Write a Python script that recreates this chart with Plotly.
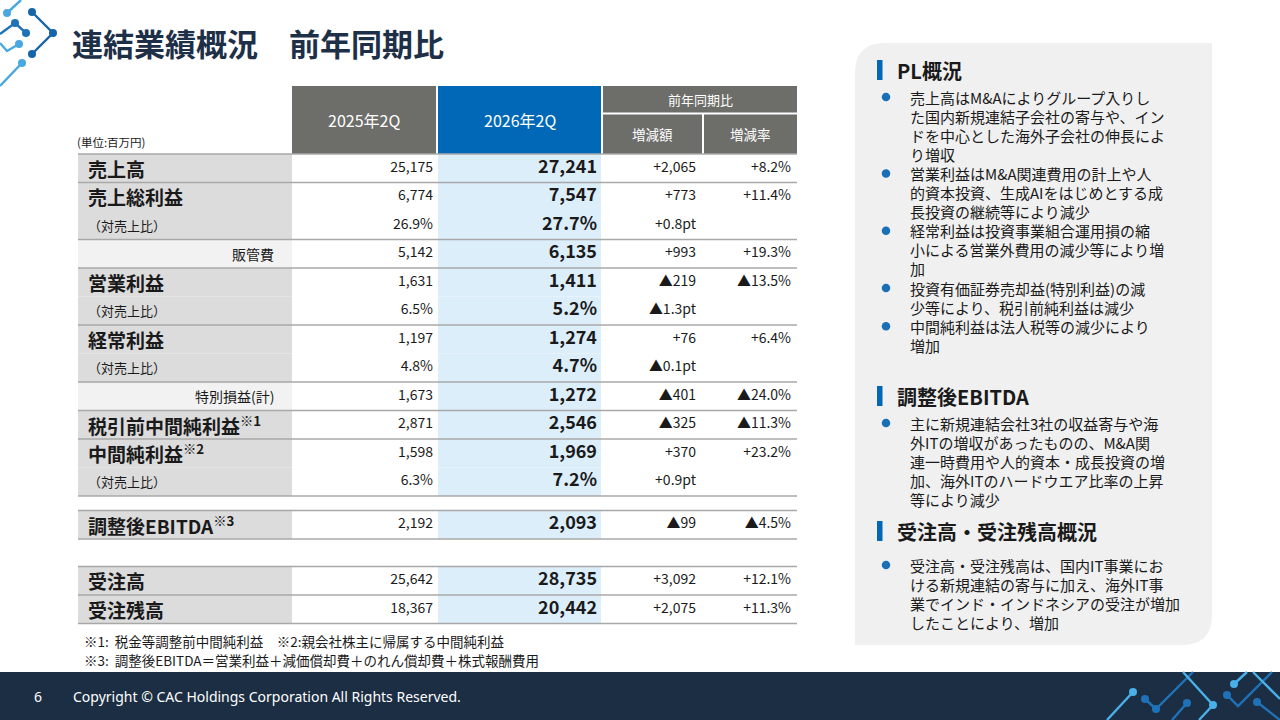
import plotly.graph_objects as go

# ---------------- data ----------------
title = "連結業績概況　前年同期比"
unit_label = "(単位:百万円)"
col_headers = ["2025年2Q", "2026年2Q"]
yoy_header = "前年同期比"
yoy_subheaders = ["増減額", "増減率"]

row_labels = ["売上高", "売上総利益", "（対売上比）", "販管費", "営業利益", "（対売上比）",
              "経常利益", "（対売上比）", "特別損益(計)", "税引前中間純利益", "中間純利益",
              "（対売上比）", "調整後EBITDA", "受注高", "受注残高"]
row_sup = ["", "", "", "", "", "", "", "", "", "※1", "※2", "", "※3", "", ""]
row_kind = ["main", "main", "sub", "minor", "main", "sub", "main", "sub", "minor",
            "main", "main", "sub", "main", "main", "main"]
v2025 = ["25,175", "6,774", "26.9%", "5,142", "1,631", "6.5%", "1,197", "4.8%", "1,673",
         "2,871", "1,598", "6.3%", "2,192", "25,642", "18,367"]
v2026 = ["27,241", "7,547", "27.7%", "6,135", "1,411", "5.2%", "1,274", "4.7%", "1,272",
         "2,546", "1,969", "7.2%", "2,093", "28,735", "20,442"]
diff = ["+2,065", "+773", "+0.8pt", "+993", "▲219", "▲1.3pt", "+76", "▲0.1pt", "▲401",
        "▲325", "+370", "+0.9pt", "▲99", "+3,092", "+2,075"]
rate = ["+8.2%", "+11.4%", "", "+19.3%", "▲13.5%", "", "+6.4%", "", "▲24.0%",
        "▲11.3%", "+23.2%", "", "▲4.5%", "+12.1%", "+11.3%"]

footnotes = ["※1:  税金等調整前中間純利益　※2:親会社株主に帰属する中間純利益",
             "※3:  調整後EBITDA＝営業利益＋減価償却費＋のれん償却費＋株式報酬費用"]

pl_heading = "PL概況"
pl_bullets = [
    ["売上高はM&Aによりグループ入りし", "た国内新規連結子会社の寄与や、イン",
     "ドを中心とした海外子会社の伸長によ", "り増収"],
    ["営業利益はM&A関連費用の計上や人", "的資本投資、生成AIをはじめとする成",
     "長投資の継続等により減少"],
    ["経常利益は投資事業組合運用損の縮", "小による営業外費用の減少等により増", "加"],
    ["投資有価証券売却益(特別利益)の減", "少等により、税引前純利益は減少"],
    ["中間純利益は法人税等の減少により", "増加"],
]
ebitda_heading = "調整後EBITDA"
ebitda_bullets = [
    ["主に新規連結会社3社の収益寄与や海", "外ITの増収があったものの、M&A関",
     "連一時費用や人的資本・成長投資の増", "加、海外ITのハードウエア比率の上昇",
     "等により減少"],
]
order_heading = "受注高・受注残高概況"
order_bullets = [
    ["受注高・受注残高は、国内IT事業にお", "ける新規連結の寄与に加え、海外IT事",
     "業でインド・インドネシアの受注が増加", "したことにより、増加"],
]
page_number = "6"
copyright_text = "Copyright © CAC Holdings Corporation All Rights Reserved."

# ---------------- layout constants / styles ----------------
W, H = 1280, 720
FONT = "Noto Sans CJK JP"
TXT = "#1a1a1a"
NAVY = "#1c2e43"
BLUE = "#0068b7"
HDR_GRAY = "#6d6d69"
LABEL_BG = "#dcdcdc"
MINOR_BG = "#f2f2f2"
COL26_BG = "#ddeefb"
LINE_C = "#a8a8a8"

X_L, X_LAB_R, X_25_R, X_26_R, X_D_R, X_R = 78, 292, 437, 602, 703, 797
ROW_H = 28.5
TABLE_TOP = 154
gap_before = {12: 14.5, 13: 27.5}

row_tops = []
y = TABLE_TOP
for i in range(len(row_labels)):
    y += gap_before.get(i, 0)
    row_tops.append(y)
    y += ROW_H
row_centers = [t + ROW_H / 2 for t in row_tops]

shapes = []
annotations = []
fig = go.Figure()


def rect(x0, y0, x1, y1, color, layer="below"):
    shapes.append(dict(type="rect", xref="x", yref="y", x0=x0, y0=y0, x1=x1, y1=y1,
                       fillcolor=color, line=dict(width=0), layer=layer))


def hline(y0, x0=X_L, x1=X_R, color=LINE_C, width=1.6):
    shapes.append(dict(type="line", xref="x", yref="y", x0=x0, x1=x1, y0=y0, y1=y0,
                       line=dict(color=color, width=width), layer="below"))


def text(x, y, s, size, color=TXT, xanchor="left", bold=False, family=FONT):
    annotations.append(dict(x=x, y=y, xref="x", yref="y", text=s, showarrow=False,
                            xanchor=xanchor, yanchor="middle",
                            font=dict(family=family, size=size, color=color,
                                      weight="bold" if bold else "normal")))


# ---------------- title & logo ----------------
text(70, 42, title, 31, color="#1e3048", bold=True)

logo_lines = [
    ([21, 7], [0, 13], "#4aa8e0"),
    ([32, 53, 32], [12, 33, 54], "#1565a8"),
    ([0, 15, 26], [34, 23, 33], "#1f72b8"),
    ([0, 7, 19], [43, 51, 44], "#4aa8e0"),
    ([22, 0], [63, 86], "#4aa8e0"),
]
logo_dots = [(7, 13, "#4aa8e0"), (32, 12, "#1565a8"), (53, 33, "#1565a8"), (32, 54, "#1565a8"),
             (15, 23, "#1f72b8"), (26, 33, "#1f72b8"), (19, 44, "#4aa8e0"), (22, 63, "#4aa8e0")]

# ---------------- table header ----------------
rect(292, 86, 436, 154, HDR_GRAY)
rect(438, 86, 601, 154, BLUE)
rect(603, 86, 797, 112.5, HDR_GRAY)
rect(603, 114.5, 702, 154, HDR_GRAY)
rect(704, 114.5, 797, 154, HDR_GRAY)
text(364, 120, col_headers[0], 16, color="white", xanchor="center")
text(519.5, 120, col_headers[1], 16, color="white", xanchor="center")
text(700, 99.5, yoy_header, 13, color="white", xanchor="center")
text(652.5, 134, yoy_subheaders[0], 13.5, color="white", xanchor="center")
text(750.5, 134, yoy_subheaders[1], 13.5, color="white", xanchor="center")
text(75, 142, unit_label, 11.5)

# ---------------- table body ----------------
for i, lab in enumerate(row_labels):
    t, c, k = row_tops[i], row_centers[i], row_kind[i]
    rect(X_L, t, X_LAB_R, t + ROW_H, MINOR_BG if k == "minor" else LABEL_BG)
    rect(X_25_R + 1, t, X_26_R - 1, t + ROW_H, COL26_BG)
    if k == "main":
        s = lab + (f"<sup>{row_sup[i]}</sup>" if row_sup[i] else "")
        text(86, c, s, 19, bold=True)
    elif k == "sub":
        text(86, c, lab, 13)
    else:
        text(276, c, lab, 14, xanchor="right")

group_start = [0, 1, 3, 4, 6, 8, 9, 10, 12, 13, 14]
group_end = [11, 12, 14]
for i in group_start:
    hline(row_tops[i])
for i in group_end:
    hline(row_tops[i] + ROW_H)

cols = [
    (v2025, X_25_R - 4, 14, False),
    (v2026, X_26_R - 5, 18, True),
    (diff, X_D_R - 7, 14, False),
    (rate, X_R - 6, 14, False),
]
for vals, xr, size, bold in cols:
    keep = [j for j, v in enumerate(vals) if v]
    fig.add_trace(go.Scatter(
        x=[xr] * len(keep), y=[row_centers[j] for j in keep], mode="text",
        text=[vals[j] for j in keep],
        textposition="middle left",
        textfont=dict(family=FONT, size=size, color=TXT, weight="bold" if bold else "normal"),
        hoverinfo="skip", showlegend=False, cliponaxis=False))

# footnotes
for j, fn in enumerate(footnotes):
    text(82, 641 + j * 19, fn, 13.5)

# ---------------- right panel ----------------
PX0, PY0, PX1, PY1, R = 855, 43, 1212, 645, 30
shapes.append(dict(
    type="path", xref="x", yref="y",
    path=(f"M {PX0 + R},{PY0} L {PX1},{PY0} L {PX1},{PY1 - R} "
          f"Q {PX1},{PY1} {PX1 - R},{PY1} L {PX0},{PY1} L {PX0},{PY0 + R} "
          f"Q {PX0},{PY0} {PX0 + R},{PY0} Z"),
    fillcolor="#f0f0f0", line=dict(width=0), layer="below"))

bullet_x, bullet_y = [], []


def section(heading, heading_y, bullets, first_y, pitch):
    rect(877, heading_y - 10, 882.5, heading_y + 10, BLUE)
    text(895, heading_y, heading, 20, bold=True)
    k = 0
    for b in bullets:
        for li, line in enumerate(b):
            yy = first_y + k * pitch
            if li == 0:
                bullet_x.append(886)
                bullet_y.append(yy)
            text(908, yy, line, 15)
            k += 1


section(pl_heading, 70, pl_bullets, 97, 19.1)
section(ebitda_heading, 396, ebitda_bullets, 423, 19.1)
section(order_heading, 531, order_bullets, 565, 19.3)

fig.add_trace(go.Scatter(x=bullet_x, y=bullet_y, mode="markers",
                         marker=dict(size=8.5, color="#1a6fb5"),
                         hoverinfo="skip", showlegend=False, cliponaxis=False))

# ---------------- footer ----------------
rect(0, 672, W, H, NAVY, layer="below")
text(38, 696, page_number, 14, color="white", xanchor="center", family="Noto Sans")
text(71, 696, copyright_text, 14, color="white", family="Noto Sans")

foot_lines = [
    ([1133, 1107], [692, 720], "#4ab0e8"),
    ([1145, 1156, 1193], [699, 709, 672], "#1f72b8"),
    ([1183, 1213, 1199], [672, 705, 720], "#4ab0e8"),
    ([1187, 1172], [703, 720], "#1f72b8"),
    ([1234, 1247], [684, 672], "#4ab0e8"),
    ([1227, 1238, 1272], [695, 706, 672], "#1f72b8"),
    ([1257, 1280], [702, 720], "#1f72b8"),
    ([1253, 1280], [672, 699], "#4ab0e8"),
]
foot_dots = [(1133, 692, "#4ab0e8"), (1145, 699, "#1f72b8"), (1156, 709, "#1f72b8"),
             (1213, 705, "#4ab0e8"), (1187, 703, "#1f72b8"), (1234, 684, "#4ab0e8"),
             (1227, 695, "#1f72b8"), (1257, 702, "#1f72b8")]

for xs, ys, col in logo_lines + foot_lines:
    fig.add_trace(go.Scatter(x=xs, y=ys, mode="lines", line=dict(color=col, width=2.4),
                             hoverinfo="skip", showlegend=False, cliponaxis=True))
for xd, yd, col in logo_dots + foot_dots:
    fig.add_trace(go.Scatter(x=[xd], y=[yd], mode="markers",
                             marker=dict(size=8, color=col),
                             hoverinfo="skip", showlegend=False, cliponaxis=True))

fig.update_layout(
    width=W, height=H, margin=dict(l=0, r=0, t=0, b=0),
    paper_bgcolor="white", plot_bgcolor="white",
    xaxis=dict(range=[0, W], visible=False, fixedrange=True),
    yaxis=dict(range=[H, 0], visible=False, fixedrange=True),
    shapes=shapes, annotations=annotations, showlegend=False,
    font=dict(family=FONT, color=TXT),
)

fig.write_html("out.html", config={"displayModeBar": False},
               post_script="document.body.style.margin='0';document.body.style.overflow='hidden';")
